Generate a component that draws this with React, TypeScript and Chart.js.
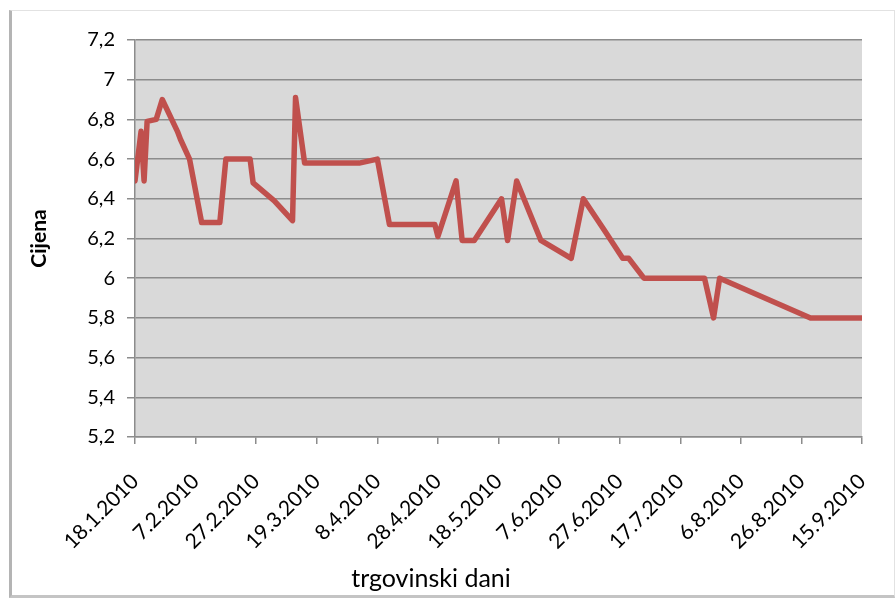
import React, { useEffect, useRef } from 'react';
import { Chart, registerables } from 'chart.js';

Chart.register(...registerables);

// Trading dates (d.m.yyyy) and share price
const dates = [
  '18.1.2010', '20.1.2010', '21.1.2010', '22.1.2010', '25.1.2010', '27.1.2010',
  '1.2.2010', '2.2.2010', '5.2.2010', '9.2.2010', '15.2.2010', '17.2.2010',
  '25.2.2010', '26.2.2010', '5.3.2010', '11.3.2010', '12.3.2010', '15.3.2010',
  '2.4.2010', '8.4.2010', '12.4.2010', '27.4.2010', '28.4.2010', '4.5.2010',
  '6.5.2010', '10.5.2010', '19.5.2010', '21.5.2010', '24.5.2010', '1.6.2010',
  '11.6.2010', '15.6.2010', '22.6.2010', '28.6.2010', '30.6.2010', '5.7.2010',
  '25.7.2010', '28.7.2010', '30.7.2010', '29.8.2010', '15.9.2010',
];
const prices = [
  6.49, 6.74, 6.49, 6.79, 6.80, 6.90,
  6.74, 6.70, 6.60, 6.28, 6.28, 6.60,
  6.60, 6.48, 6.39, 6.29, 6.91, 6.58,
  6.58, 6.60, 6.27, 6.27, 6.21, 6.49,
  6.19, 6.19, 6.40, 6.19, 6.49, 6.19,
  6.10, 6.40, 6.24, 6.10, 6.10, 6.00,
  6.00, 5.80, 6.00, 5.80, 5.80,
];
const xTickLabels = [
  '18.1.2010', '7.2.2010', '27.2.2010', '19.3.2010', '8.4.2010', '28.4.2010',
  '18.5.2010', '7.6.2010', '27.6.2010', '17.7.2010', '6.8.2010', '26.8.2010',
  '15.9.2010',
];
const yAxisTitle = 'Cijena';
const xAxisTitle = 'trgovinski dani';

const START = Date.UTC(2010, 0, 18);
function dayOffset(s: string): number {
  const [d, m, y] = s.split('.').map(Number);
  return (Date.UTC(y, m - 1, d) - START) / 86400000;
}

const FONT = 'Lato, "Open Sans", sans-serif';

export default function App() {
  const ref = useRef<HTMLCanvasElement | null>(null);

  useEffect(() => {
    if (!ref.current) return;
    const points = dates.map((d, i) => ({ x: dayOffset(d), y: prices[i] }));
    const plotBg = {
      id: 'plotBg',
      beforeDraw(chart: any) {
        const { ctx, chartArea } = chart;
        ctx.save();
        ctx.fillStyle = '#d9d9d9';
        ctx.fillRect(chartArea.left, chartArea.top, chartArea.right - chartArea.left, chartArea.bottom - chartArea.top);
        ctx.restore();
      },
    };
    const xTitle = {
      id: 'xTitle',
      afterDraw(chart: any) {
        const { ctx } = chart;
        ctx.save();
        ctx.font = '25px ' + FONT;
        ctx.fillStyle = '#000';
        ctx.textAlign = 'center';
        ctx.textBaseline = 'alphabetic';
        ctx.fillText(xAxisTitle, 431, 587);
        ctx.restore();
      },
    };
    const chart = new Chart(ref.current, {
      type: 'line',
      data: {
        datasets: [
          {
            data: points,
            borderColor: '#c0504d',
            borderWidth: 5.5,
            pointRadius: 0,
            tension: 0,
            borderJoinStyle: 'round',
            borderCapStyle: 'round',
            fill: false,
          },
        ],
      },
      options: {
        responsive: false,
        animation: false,
        layout: { padding: { left: 0, top: 40, right: 34, bottom: 0 } },
        plugins: { legend: { display: false }, tooltip: { enabled: false } },
        scales: {
          x: {
            type: 'linear',
            min: 0,
            max: 240,
            afterFit(scale: any) {
              scale.height = 163;
              scale.paddingLeft = 0;
              scale.paddingRight = 0;
            },
            afterBuildTicks(scale: any) {
              scale.ticks = xTickLabels.map((_, i) => ({ value: i * 20 }));
            },
            ticks: {
              autoSkip: false,
              minRotation: 45,
              maxRotation: 45,
              padding: 25,
              color: '#000',
              font: { family: FONT, size: 21 },
              callback: (_v: any, i: number) => xTickLabels[i],
            },
            grid: { display: true, drawOnChartArea: false, drawTicks: true, tickLength: 7, color: '#8c8c8c', lineWidth: 1.5 },
            border: { display: true, color: '#8c8c8c', width: 1.5 },
          },
          y: {
            min: 5.2,
            max: 7.2,
            afterFit(scale: any) { scale.width = 135; },
            ticks: {
              stepSize: 0.2,
              padding: 12,
              color: '#000',
              font: { family: FONT, size: 20 },
              callback: (v: any) => String(Number(Number(v).toFixed(1))).replace('.', ','),
            },
            grid: { color: '#8c8c8c', lineWidth: 1.5, tickLength: 8 },
            border: { display: true, color: '#8c8c8c', width: 1.5 },
            title: {
              display: true,
              text: yAxisTitle,
              color: '#000',
              font: { family: FONT, size: 21, weight: 'bold' },
              padding: { top: 27, bottom: 0 },
            },
          },
        },
      },
      plugins: [plotBg, xTitle],
    });
    return () => chart.destroy();
  }, []);

  return (
    <div style={{ position: 'absolute', left: 0, top: 0, width: 896, height: 600, background: '#fff' }}>
      <div
        style={{
          position: 'absolute',
          left: 9,
          top: 10,
          width: 882,
          height: 584,
          borderTop: '1px solid #e2e2e2',
          borderRight: '1px solid #e2e2e2',
          borderLeft: '3px solid #b4b4b4',
          borderBottom: '3px solid #c4c4c4',
          background: '#fff',
        }}
      />
      <canvas ref={ref} width={896} height={600} style={{ position: 'absolute', left: 0, top: 0 }} />
    </div>
  );
}
